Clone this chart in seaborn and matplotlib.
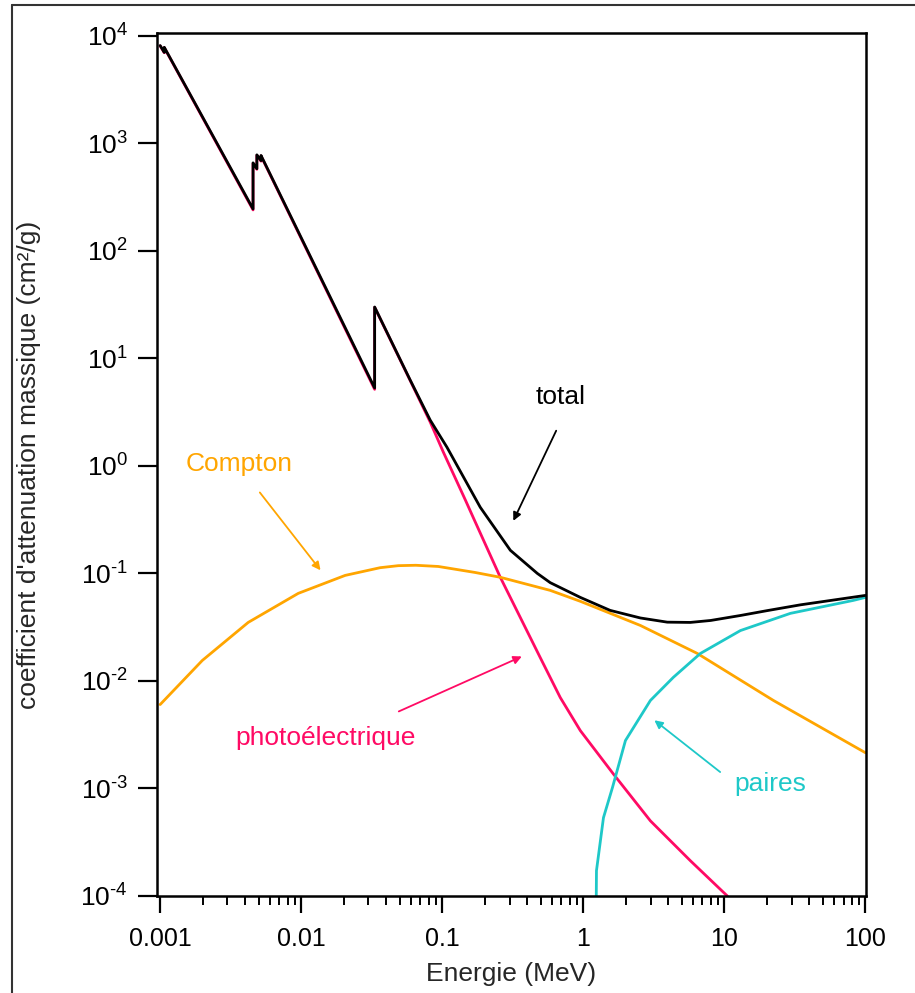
import matplotlib
matplotlib.use("Agg")
import math
import matplotlib.pyplot as plt
import matplotlib.ticker as mticker
from matplotlib.lines import Line2D
import pandas as pd
import seaborn as sns

# values (energy in MeV, mass attenuation in cm2/g)
total_energy = [0.001, 0.00107, 0.00107, 0.004557, 0.004557, 0.00485, 0.00485, 0.00519, 0.00519,
                0.03317, 0.03317, 0.0593, 0.0822, 0.108, 0.186, 0.304, 0.472, 0.583, 0.953, 1.55,
                2.54, 3.94, 5.74, 8.0, 13.0, 20.0, 34.6, 100.0]
total_mu = [8100, 7000, 7800, 245, 657, 580, 780, 690, 770,
            5.3, 30.0, 6.27, 2.66, 1.49, 0.412, 0.164, 0.100, 0.082, 0.0598, 0.0453,
            0.0385, 0.0352, 0.035, 0.0365, 0.0406, 0.045, 0.051, 0.0624]

photo_energy = [0.001, 0.00107, 0.00107, 0.004557, 0.004557, 0.00485, 0.00485, 0.00519, 0.00519,
                0.03317, 0.03317, 0.0593, 0.0822, 0.1016, 0.146, 0.166, 0.258, 0.421, 0.495, 0.687,
                0.953, 1.63, 2.99, 5.74, 10.5]
photo_mu = [8050, 6950, 7750, 240, 650, 573, 772, 682, 762,
            5.15, 29.8, 6.2, 2.55, 1.35, 0.48, 0.33, 0.092, 0.0253, 0.0165, 0.0070,
            0.00345, 0.00137, 0.0005, 0.000213, 0.0001]

compton_energy = [0.001, 0.00199, 0.00421, 0.00953, 0.0205, 0.0363, 0.0488, 0.065, 0.0937,
                  0.171, 0.258, 0.583, 0.953, 2.54, 6.44, 22.3, 100.0]
compton_mu = [0.00603, 0.0155, 0.035, 0.0652, 0.0958, 0.113, 0.118, 0.119, 0.116,
              0.102, 0.092, 0.0695, 0.055, 0.0328, 0.018, 0.00658, 0.00215]

pair_energy = [1.236, 1.24, 1.39, 1.61, 1.99, 2.99, 4.35, 6.76, 13.0, 29.4, 82.2, 100.0]
pair_mu = [0.0001, 0.000172, 0.000535, 0.00102, 0.00279, 0.00658, 0.0108, 0.018, 0.0294,
           0.0425, 0.0561, 0.0598]

x_ticks = [0.001, 0.01, 0.1, 1, 10, 100]
x_tick_labels = ["0.001", "0.01", "0.1", "1", "10", "100"]
y_ticks = [1e-4, 1e-3, 1e-2, 1e-1, 1e0, 1e1, 1e2, 1e3, 1e4]

BLACK = "#000000"
PINK = "#ff0a64"
ORANGE = "#ffa500"
CYAN = "#1ec8c8"

sns.set_theme(style="ticks")
plt.rcParams["font.family"] = ["Liberation Sans", "DejaVu Sans"]
plt.rcParams["mathtext.fontset"] = "custom"
plt.rcParams["mathtext.rm"] = "Liberation Sans"
plt.rcParams["mathtext.it"] = "Liberation Sans:italic"


def pow10_label(v, pos):
    n = int(round(math.log10(v)))
    if n < 0:
        return r"$\mathdefault{10^{\text{-}%d}}$" % (-n)
    return r"$\mathdefault{10^{%d}}$" % n


fig = plt.figure(figsize=(9.15, 9.93), dpi=100)
ax = fig.add_axes([157 / 915, 1 - 896 / 993, (866 - 157) / 915, (896 - 33) / 993])

series = [
    (photo_energy, photo_mu, PINK),
    (compton_energy, compton_mu, ORANGE),
    (pair_energy, pair_mu, CYAN),
    (total_energy, total_mu, BLACK),
]
for xs, ys, col in series:
    df = pd.DataFrame({"E": xs, "mu": ys})
    sns.lineplot(data=df, x="E", y="mu", ax=ax, color=col, lw=2.0,
                 estimator=None, sort=False)

ax.set_xscale("log")
ax.set_yscale("log")
ax.set_xlim(0.00095, 101)
ax.set_ylim(1e-4, 1.06e4)

ax.xaxis.set_major_locator(mticker.FixedLocator(x_ticks))
ax.xaxis.set_major_formatter(mticker.FixedFormatter(x_tick_labels))
ax.xaxis.set_minor_locator(mticker.LogLocator(base=10, subs=range(2, 10), numticks=20))
ax.xaxis.set_minor_formatter(mticker.NullFormatter())
ax.yaxis.set_major_locator(mticker.FixedLocator(y_ticks))
ax.yaxis.set_major_formatter(mticker.FuncFormatter(pow10_label))
ax.yaxis.set_minor_locator(mticker.NullLocator())

ax.tick_params(axis="x", which="major", direction="out", length=12, width=1.6,
               labelsize=18, pad=10, colors="black")
ax.tick_params(axis="x", which="minor", direction="out", length=6.5, width=1.4, colors="black")
ax.tick_params(axis="y", which="major", direction="out", length=14, width=1.6,
               labelsize=19, pad=7, colors="black")
for s in ax.spines.values():
    s.set_visible(True)
    s.set_linewidth(1.8)
    s.set_color("black")

ax.set_xlabel("Energie (MeV)", fontsize=19, labelpad=8)
ax.set_ylabel("coefficient d'attenuation massique (cm²/g)", fontsize=19, labelpad=28)

# curve labels and arrows
ax.text(0.687, 4.36, "total", color=BLACK, fontsize=19, ha="center", va="center")
ax.annotate("", xy=(0.313, 0.292), xytext=(0.655, 2.24),
            arrowprops=dict(arrowstyle="-|>", color=BLACK, lw=1.3, mutation_scale=12))
ax.text(0.00363, 1.035, "Compton", color=ORANGE, fontsize=19, ha="center", va="center")
ax.annotate("", xy=(0.0141, 0.102), xytext=(0.00495, 0.593),
            arrowprops=dict(arrowstyle="-|>", color=ORANGE, lw=1.3, mutation_scale=12))
ax.text(0.0148, 0.00297, "photoélectrique", color=PINK, fontsize=19, ha="center", va="center")
ax.annotate("", xy=(0.382, 0.0173), xytext=(0.0472, 0.00508),
            arrowprops=dict(arrowstyle="-|>", color=PINK, lw=1.3, mutation_scale=12))
ax.text(21.2, 0.00111, "paires", color=CYAN, fontsize=19, ha="center", va="center")
ax.annotate("", xy=(3.08, 0.00447), xytext=(9.68, 0.00137),
            arrowprops=dict(arrowstyle="-|>", color=CYAN, lw=1.3, mutation_scale=12))

# outer frame (left and top edges visible in the reference)
fig.add_artist(Line2D([12 / 915, 12 / 915], [0, 1 - 5 / 993], transform=fig.transFigure,
                      color="#333333", lw=1.5))
fig.add_artist(Line2D([12 / 915, 1], [1 - 5 / 993, 1 - 5 / 993], transform=fig.transFigure,
                      color="#333333", lw=1.5))

fig.savefig("out.png", dpi=100)
